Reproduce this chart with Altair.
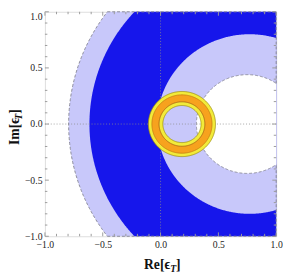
import numpy as np
import pandas as pd
import altair as alt

SERIF = "Liberation Serif"
W, H = 238, 231

# ---- axis ticks ----
major_ticks = [-1.0, -0.5, 0.0, 0.5, 1.0]
minor_ticks = [-0.9, -0.8, -0.7, -0.6, -0.4, -0.3, -0.2, -0.1,
               0.1, 0.2, 0.3, 0.4, 0.6, 0.7, 0.8, 0.9]

# ---- allowed regions: disks painted in order (centre on real axis, radius) ----
disk_cx = [0.865, 0.865, 0.77, 0.75]
disk_r = [1.66, 1.48, 0.80, 0.44]
disk_fill = ["#c8c8fa", "#1616eb", "#c8c8fa", "#ffffff"]
dashed_disks = [0, 3]          # boundaries drawn dashed

# ---- ring (centre, band radii) ----
ring_cx = 0.185
band_outer = [0.29, 0.26]
band_inner = [0.165, 0.198]
band_fill = ["#f2eb3a", "#f7a21e"]
edge_r = [0.29, 0.26, 0.198, 0.165]
edge_color = ["#9c8f10", "#c27a12", "#a05a14", "#9c8f10"]

xs = alt.Scale(domain=[-1, 1], nice=False, zero=False)
ys = alt.Scale(domain=[-1, 1], nice=False, zero=False)

xaxis = alt.Axis(values=major_ticks, format=".1f", ticks=False, domain=False, grid=False,
                 labelFont=SERIF, labelFontSize=10, labelColor="#222", labelPadding=4,
                 labelFlush=False, labelOverlap=False, title=None,
                 labelExpr="datum.value < 0 ? '\u00a0\u00a0\u00a0' + datum.label : datum.label")
yaxis = alt.Axis(values=major_ticks, format=".1f", ticks=False, domain=False, grid=False,
                 labelFont=SERIF, labelFontSize=10, labelColor="#222", labelPadding=3,
                 labelFlush=False, labelOverlap=False, title=None,
                 labelBaseline={"condition": {"test": "datum.value >= 1", "value": "top"},
                                "value": "middle"})


def X(f):
    return alt.X(f, type="quantitative", scale=xs, axis=xaxis)


def Y(f):
    return alt.Y(f, type="quantitative", scale=ys, axis=yaxis)


def circle_df(c, r, n=361):
    t = np.linspace(0, 2 * np.pi, n)
    return pd.DataFrame({"i": np.arange(n), "x": c + r * np.cos(t), "y": r * np.sin(t)})


layers = []

# region disks
for c, r, col in zip(disk_cx, disk_r, disk_fill):
    t = np.linspace(np.pi, 0, 361)
    df = pd.DataFrame({"x": c + r * np.cos(t), "lo": -r * np.sin(t), "hi": r * np.sin(t)})
    layers.append(alt.Chart(df).mark_area(color=col, clip=True, opacity=1, orient="vertical")
                  .encode(x=X("x"), y=Y("lo"), y2="hi"))

# dotted grid lines
g0 = pd.DataFrame({"v": [0.0]})
layers.append(alt.Chart(g0).mark_rule(color="#8c8c8c", strokeDash=[1, 2], strokeWidth=1, opacity=0.8)
              .encode(x=X("v")))
layers.append(alt.Chart(g0).mark_rule(color="#8c8c8c", strokeDash=[1, 2], strokeWidth=1, opacity=0.8)
              .encode(y=Y("v")))

# dashed region boundaries
for k in dashed_disks:
    layers.append(alt.Chart(circle_df(disk_cx[k], disk_r[k], 721))
                  .mark_line(color="#8a8a98", strokeDash=[3, 2], strokeWidth=1, clip=True)
                  .encode(x=X("x"), y=Y("y"), order="i:Q"))
x_edge = disk_cx[0] - np.sqrt(disk_r[0] ** 2 - 1)
y_edge = np.sqrt(disk_r[3] ** 2 - (1 - disk_cx[3]) ** 2)
edges = pd.DataFrame({"x1": [x_edge, x_edge, 1, 1], "x2": [1, 1, 1, 1],
                      "y1": [1, -1, y_edge, -1], "y2": [1, -1, 1, -y_edge]})
layers.append(alt.Chart(edges).mark_rule(color="#8a8a98", strokeDash=[3, 2], strokeWidth=1)
              .encode(x=X("x1"), x2="x2", y=Y("y1"), y2="y2"))

# ring bands (annuli as upper and lower halves)
for ro, ri, col in zip(band_outer, band_inner, band_fill):
    t = np.linspace(0, np.pi, 241)
    xv = np.unique(np.concatenate([ring_cx + ro * np.cos(t), ring_cx + ri * np.cos(t)]))
    out = np.sqrt(np.clip(ro ** 2 - (xv - ring_cx) ** 2, 0, None))
    inn = np.sqrt(np.clip(ri ** 2 - (xv - ring_cx) ** 2, 0, None))
    df = pd.concat([
        pd.DataFrame({"x": xv, "lo": inn, "hi": out, "half": "top"}),
        pd.DataFrame({"x": xv, "lo": -inn, "hi": -out, "half": "bottom"}),
    ])
    layers.append(alt.Chart(df).mark_area(color=col, clip=True, orient="vertical")
                  .encode(x=X("x"), y=Y("lo"), y2="hi", detail="half:N"))

for r, col in zip(edge_r, edge_color):
    layers.append(alt.Chart(circle_df(ring_cx, r)).mark_line(color=col, strokeWidth=0.8, clip=True)
                  .encode(x=X("x"), y=Y("y"), order="i:Q"))

# frame ticks (inward)
TC = "#9a9a9a"
for vals, L in ((major_ticks, 4), (minor_ticks, 2.5)):
    tv = pd.DataFrame({"v": vals})
    layers.append(alt.Chart(tv).mark_rule(color=TC, strokeWidth=1)
                  .encode(x=X("v"), y=alt.value(H), y2=alt.value(H - L)))
    layers.append(alt.Chart(tv).mark_rule(color=TC, strokeWidth=1)
                  .encode(x=X("v"), y=alt.value(0), y2=alt.value(L)))
    layers.append(alt.Chart(tv).mark_rule(color=TC, strokeWidth=1)
                  .encode(y=Y("v"), x=alt.value(0), x2=alt.value(L)))
    layers.append(alt.Chart(tv).mark_rule(color=TC, strokeWidth=1)
                  .encode(y=Y("v"), x=alt.value(W), x2=alt.value(W - L)))

# axis titles: Re[eps_T], Im[eps_T]
one = pd.DataFrame({"a": [0]})
layers.append(alt.Chart(one).mark_text(text="Re[ϵ", font=SERIF, fontSize=14, fontWeight="bold",
                                       align="left", baseline="alphabetic", color="#111")
              .encode(x=alt.value(102), y=alt.value(265)))
layers.append(alt.Chart(one).mark_text(text="T", font=SERIF, fontSize=10, fontWeight="bold",
                                       fontStyle="italic", align="left", baseline="alphabetic", color="#111")
              .encode(x=alt.value(129), y=alt.value(268)))
layers.append(alt.Chart(one).mark_text(text="]", font=SERIF, fontSize=14, fontWeight="bold",
                                       align="left", baseline="alphabetic", color="#111")
              .encode(x=alt.value(135), y=alt.value(265)))

layers.append(alt.Chart(one).mark_text(text="Im[ϵ", font=SERIF, fontSize=14, fontWeight="bold",
                                       align="left", baseline="alphabetic", angle=270, color="#111")
              .encode(x=alt.value(-27), y=alt.value(137)))
layers.append(alt.Chart(one).mark_text(text="T", font=SERIF, fontSize=10, fontWeight="bold",
                                       fontStyle="italic", align="left", baseline="alphabetic",
                                       angle=270, color="#111")
              .encode(x=alt.value(-24), y=alt.value(111)))
layers.append(alt.Chart(one).mark_text(text="]", font=SERIF, fontSize=14, fontWeight="bold",
                                       align="left", baseline="alphabetic", angle=270, color="#111")
              .encode(x=alt.value(-27), y=alt.value(105)))

chart = (alt.layer(*layers)
         .properties(width=W, height=H,
                     autosize=alt.AutoSizeParams(type="none"),
                     padding={"left": 38, "top": 0, "right": 7, "bottom": 38})
         .configure_view(stroke="#b0b0b0", strokeWidth=1)
         .configure(background="white"))

chart.save("out.html", embed_options={"renderer": "svg", "actions": False})
